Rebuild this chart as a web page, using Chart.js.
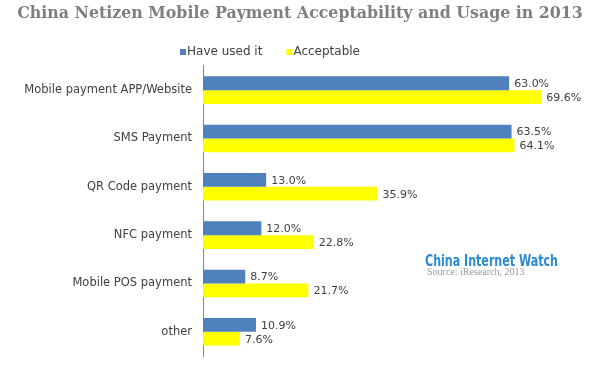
<!DOCTYPE html>
<html>
<head>
<meta charset="utf-8">
<script src="https://cdn.jsdelivr.net/npm/chart.js@4"></script>
<style>
  html, body { margin: 0; padding: 0; background: #fff; }
  #wrap { position: relative; width: 600px; height: 366px; }
</style>
</head>
<body>
<div id="wrap"><canvas id="chart" width="600" height="366"></canvas></div>
<script>
const categories = ["Mobile payment APP/Website", "SMS Payment", "QR Code payment", "NFC payment", "Mobile POS payment", "other"];
const haveUsed = [63.0, 63.5, 13.0, 12.0, 8.7, 10.9];
const acceptable = [69.6, 64.1, 35.9, 22.8, 21.7, 7.6];
const seriesNames = ["Have used it", "Acceptable"];

const labelFont = "'DejaVu Sans', sans-serif";

// value labels at the end of each bar
const valueLabels = {
  id: "valueLabels",
  afterDatasetsDraw(chart) {
    const ctx = chart.ctx;
    ctx.save();
    ctx.font = "11px " + labelFont;
    ctx.fillStyle = "#404040";
    ctx.textBaseline = "middle";
    chart.data.datasets.forEach((ds, i) => {
      chart.getDatasetMeta(i).data.forEach((bar, j) => {
        ctx.fillText(ds.data[j].toFixed(1) + "%", bar.x + 5, bar.y + 1);
      });
    });
    ctx.restore();
  }
};

// legend sits a bit left of centre in the original, so draw it by hand
const sideLegend = {
  id: "sideLegend",
  afterDraw(chart) {
    const ctx = chart.ctx;
    ctx.save();
    ctx.font = "12px " + labelFont;
    ctx.textBaseline = "alphabetic";
    let x = 180;
    chart.data.datasets.forEach(ds => {
      ctx.fillStyle = ds.backgroundColor;
      ctx.fillRect(x, 49, 6, 6);
      ctx.fillStyle = "#404040";
      ctx.fillText(ds.label, x + 7, 55);
      x += 7 + ctx.measureText(ds.label).width + 24;
    });
    ctx.restore();
  }
};

// watermark, squeezed to the width of the original logo text
const watermark = {
  id: "watermark",
  afterDraw(chart) {
    const ctx = chart.ctx;
    const txt = "China Internet Watch";
    ctx.save();
    ctx.font = "bold 16px 'DejaVu Sans', sans-serif";
    const w = ctx.measureText(txt).width;
    ctx.translate(425, 266);
    ctx.scale(133 / w, 1);
    ctx.lineWidth = 3;
    ctx.strokeStyle = "#ffffff";
    ctx.strokeText(txt, 0, 0);
    ctx.fillStyle = "#2b8bd0";
    ctx.fillText(txt, 0, 0);
    ctx.restore();
    ctx.save();
    ctx.font = "10px 'Liberation Serif', serif";
    ctx.fillStyle = "#999999";
    ctx.fillText("Source: iResearch, 2013", 427, 275);
    ctx.restore();
  }
};

new Chart(document.getElementById("chart"), {
  type: "bar",
  data: {
    labels: categories,
    datasets: [
      { label: seriesNames[0], data: haveUsed, backgroundColor: "#4f81bd", borderWidth: 0 },
      { label: seriesNames[1], data: acceptable, backgroundColor: "#ffff00", borderWidth: 0 }
    ]
  },
  options: {
    indexAxis: "y",
    responsive: false,
    animation: false,
    categoryPercentage: 0.57,
    barPercentage: 1.0,
    layout: { padding: { left: 0, right: 0, top: 0, bottom: 10 } },
    plugins: {
      title: {
        display: true,
        text: "China Netizen Mobile Payment Acceptability and Usage in 2013",
        color: "#7f7f7f",
        font: { family: "'DejaVu Serif', serif", size: 15.8, weight: "bold", lineHeight: 1.2 },
        padding: { top: 4, bottom: 43 }
      },
      legend: { display: false },
      tooltip: { enabled: false }
    },
    scales: {
      x: { display: false, min: 0, max: 81.7 },
      y: {
        grid: { display: false, drawTicks: false },
        border: { display: true, color: "#868686", width: 1 },
        ticks: { color: "#404040", font: { family: labelFont, size: 11.5 }, padding: 11 },
        afterFit(scale) {
          scale.width = 203;
          scale.paddingTop = 0;
          scale.paddingBottom = 0;
        }
      }
    }
  },
  plugins: [valueLabels, sideLegend, watermark]
});
</script>
</body>
</html>
